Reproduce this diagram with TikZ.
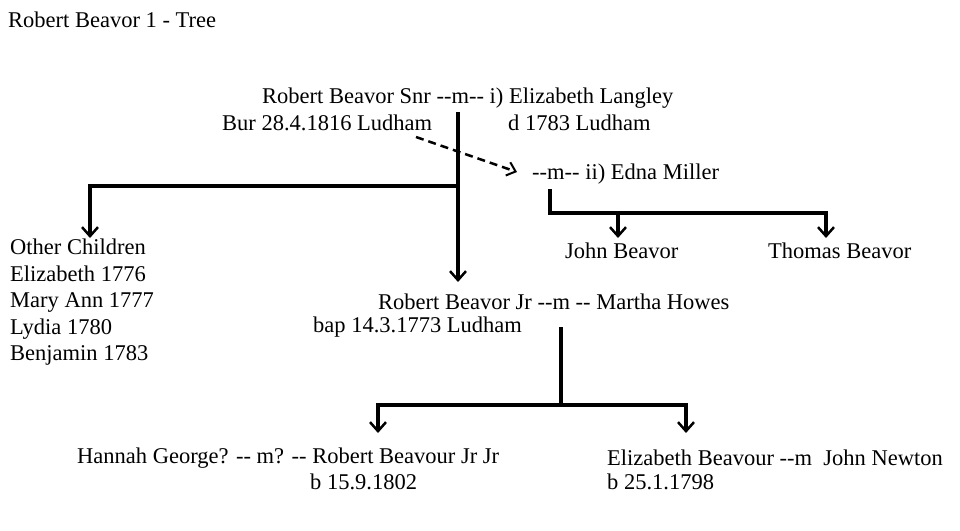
\documentclass[tikz,border=0pt]{standalone}
\usepackage{fontspec}
\setmainfont{Liberation Serif}
\usetikzlibrary{arrows.meta}
\begin{document}
\begin{tikzpicture}[x=1pt,y=-1pt,
  lbl/.style={anchor=west,inner sep=0pt,font=\fontsize{22.5}{24}\selectfont},
  ln/.style={line width=3.5pt},
  arr/.style={line width=3.5pt,-{Straight Barb[length=9pt,width=16pt,line width=2.5pt]}},
  dasharr/.style={line width=2.5pt,dash pattern=on 8pt off 5pt,-{Straight Barb[length=8pt,width=14pt,line width=2pt]}}]
\useasboundingbox (0,0) rectangle (960,530);
\node[lbl] (title) at (8,20) {Robert Beavor 1 - Tree};
\node[lbl] (snr) at (262,98) {Robert Beavor Snr -{}-m-{}- i) Elizabeth Langley};
\node[lbl] (bur) at (222,123) {Bur 28.4.1816 Ludham};
\node[lbl] (d) at (508,123) {d 1783 Ludham};
\node[lbl] (edna) at (532,174) {-{}-m-{}- ii) Edna Miller};
\node[lbl] (john) at (565,251) {John Beavor};
\node[lbl] (thomas) at (768,251) {Thomas Beavor};
\node[lbl,align=left,anchor=north west,font=\fontsize{22.5}{26.5}\selectfont] (other) at (10,239) {Other Children\\Elizabeth 1776\\Mary Ann 1777\\Lydia 1780\\Benjamin 1783};
\node[lbl] (jr) at (378,302) {Robert Beavor Jr -{}-m -{}- Martha Howes};
\node[lbl] (bap) at (313,327) {bap 14.3.1773 Ludham};
\node[lbl] (hannah) at (77,458) {Hannah George? -{}- m? -{}- Robert Beavour Jr Jr};
\node[lbl] (b1802) at (310,482) {b 15.9.1802};
\node[lbl] (eliz) at (607,458) {Elizabeth Beavour -{}-m\ \ John Newton};
\node[lbl] (b1798) at (607,482) {b 25.1.1798};
\coordinate (a1) at (458,112);
\coordinate (a2) at (458,186);
\draw[arr] (a1) -- (458,282);
\draw[ln] (a2) -- (90,186);
\draw[arr] (90,184.25) -- (90,238);
\draw[dasharr] (416,137) -- (517,172);
\draw[ln] (550,189) -- (550,213) -- (826,213);
\draw[arr] (618,213) -- (618,238);
\draw[arr] (826,211.25) -- (826,238);
\draw[ln] (561,327) -- (561,405);
\draw[ln] (378,405) -- (686,405);
\draw[arr] (378,403.25) -- (378,433);
\draw[arr] (686,403.25) -- (686,433);
\end{tikzpicture}
\end{document}
